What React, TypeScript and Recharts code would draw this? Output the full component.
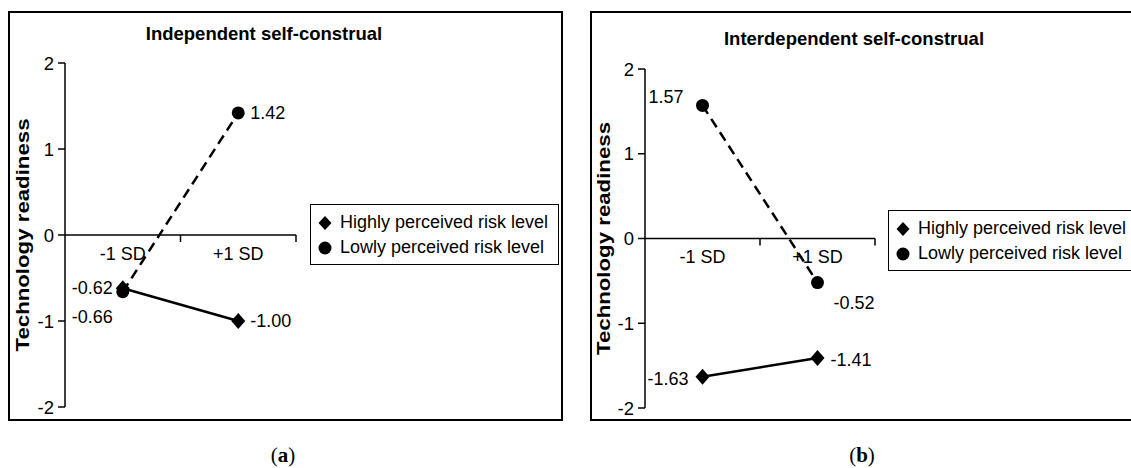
import React from 'react';
import { LineChart, Line, XAxis, YAxis, ReferenceLine, LabelList, Legend } from 'recharts';

const CATEGORIES = ['-1 SD', '+1 SD'];
const Y_TICKS = [-2, -1, 0, 1, 2];
const SERIES_NAMES = ['Highly perceived risk level', 'Lowly perceived risk level'];

// (a) independent self-construal
const INDEP_HIGH = [-0.62, -1.0];
const INDEP_LOW = [-0.66, 1.42];
// (b) interdependent self-construal
const INTER_HIGH = [-1.63, -1.41];
const INTER_LOW = [1.57, -0.52];

const FONT = '"Liberation Sans", Arial, sans-serif';
const SERIF = '"Liberation Serif", "Times New Roman", serif';
const CHART_H = 468;
const XAXIS_H = 30;

type Offset = { dx: number; dy: number; anchor: 'start' | 'end' };

const Diamond = (props: any) => {
  const { cx, cy } = props;
  if (cx == null || cy == null) return null;
  return <path d={`M${cx},${cy - 8} L${cx + 7},${cy} L${cx},${cy + 8} L${cx - 7},${cy} Z`} fill="#000" />;
};

const Dot = (props: any) => {
  const { cx, cy } = props;
  if (cx == null || cy == null) return null;
  return <circle cx={cx} cy={cy} r={6.5} fill="#000" />;
};

const makeLabel = (offsets: Offset[]) => (props: any) => {
  const vb = props.viewBox || {};
  const x = vb.x ?? props.x;
  const y = vb.y ?? props.y;
  const o = offsets[props.index] || { dx: 12, dy: 0, anchor: 'start' };
  return (
    <text x={x + o.dx} y={y + o.dy} textAnchor={o.anchor} dominantBaseline="central"
      fontFamily={FONT} fontSize={18} fill="#000">
      {Number(props.value).toFixed(2)}
    </text>
  );
};

const LegendBox = ({ width }: { width: number }) => (
  <div style={{ width, border: '1.5px solid #000', background: '#fff', padding: '5px 0 4px 0', fontFamily: FONT, fontSize: 18, color: '#000', boxSizing: 'border-box' }}>
    {SERIES_NAMES.map((name, i) => (
      <div key={name} style={{ height: 25, display: 'flex', alignItems: 'center', whiteSpace: 'nowrap' }}>
        <svg width={29} height={20} style={{ flex: 'none' }}>
          {i === 0
            ? <path d="M14,3 L20.5,10 L14,17 L7.5,10 Z" fill="#000" />
            : <circle cx={14} cy={10} r={6.5} fill="#000" />}
        </svg>
        <span>{name}</span>
      </div>
    ))}
  </div>
);

type PanelProps = {
  left: number; width: number; axisWidth: number; plotWidth: number;
  plotTop: number; plotBottom: number; yLabelX: number;
  high: number[]; low: number[];
  highOffsets: Offset[]; lowOffsets: Offset[];
  legendLeft: number; legendTop: number; legendWidth: number;
};

const Panel = (p: PanelProps) => {
  const data = CATEGORIES.map((name, i) => ({ name, high: p.high[i], low: p.low[i] }));
  const plotH = p.plotBottom - p.plotTop;
  const zeroShift = plotH * (0 - Y_TICKS[0]) / (Y_TICKS[Y_TICKS.length - 1] - Y_TICKS[0]);
  const margin = { top: p.plotTop, right: p.width - p.axisWidth - p.plotWidth, bottom: CHART_H - p.plotBottom - XAXIS_H, left: 0 };
  const halfBand = p.plotWidth / CATEGORIES.length / 2;

  const CategoryTick = (t: any) => {
    const zeroY = t.y - zeroShift;
    const off = t.payload?.offset ?? halfBand;
    return (
      <g>
        <line x1={t.x + off} x2={t.x + off} y1={zeroY} y2={zeroY + 7} stroke="#000" strokeWidth={1.5} />
        <text x={t.x} y={zeroY + 12} dy="0.72em" textAnchor="middle" fontFamily={FONT} fontSize={18} fill="#000">
          {t.payload.value}
        </text>
      </g>
    );
  };

  const YLabel = (l: any) => {
    const vb = l.viewBox;
    const cx = p.yLabelX;
    const cy = vb.y + vb.height / 2;
    return (
      <text x={cx} y={cy} transform={`rotate(-90 ${cx} ${cy})`} textAnchor="middle" dominantBaseline="central"
        fontFamily={FONT} fontWeight="bold" fontSize={19} textLength={233} lengthAdjust="spacingAndGlyphs" fill="#000">
        Technology readiness
      </text>
    );
  };

  return (
    <div style={{ position: 'absolute', left: p.left, top: 0 }}>
      <LineChart width={p.width} height={CHART_H} data={data} margin={margin}>
        <XAxis dataKey="name" scale="band" height={XAXIS_H} axisLine={false} tickLine={false}
          tickSize={0} tickMargin={0} tick={CategoryTick} interval={0} />
        <YAxis type="number" domain={[Y_TICKS[0], Y_TICKS[Y_TICKS.length - 1]]} ticks={Y_TICKS}
          width={p.axisWidth} axisLine={{ stroke: '#000', strokeWidth: 1.5 }}
          tickLine={{ stroke: '#000', strokeWidth: 1.5 }} tickSize={7} tickMargin={4}
          tick={{ fontFamily: FONT, fontSize: 18.5, fill: '#000' }} label={{ content: YLabel }} />
        <ReferenceLine y={0} stroke="#000" strokeWidth={1.5} />
        <Legend layout="horizontal" verticalAlign="middle" align="center"
          wrapperStyle={{ left: p.legendLeft, top: p.legendTop, width: 'auto' }}
          content={() => <LegendBox width={p.legendWidth} />} />
        <Line dataKey="high" name={SERIES_NAMES[0]} stroke="#000" strokeWidth={2.5} dot={<Diamond />}
          activeDot={false} isAnimationActive={false}>
          <LabelList dataKey="high" content={makeLabel(p.highOffsets)} />
        </Line>
        <Line dataKey="low" name={SERIES_NAMES[1]} stroke="#000" strokeWidth={2.5} strokeDasharray="10 6"
          dot={<Dot />} activeDot={false} isAnimationActive={false}>
          <LabelList dataKey="low" content={makeLabel(p.lowOffsets)} />
        </Line>
      </LineChart>
    </div>
  );
};

const frame: React.CSSProperties = { position: 'absolute', top: 11, height: 410, border: '2px solid #000', boxSizing: 'border-box' };
const titleStyle: React.CSSProperties = { position: 'absolute', fontFamily: FONT, fontWeight: 'bold', fontSize: 18.5, transform: 'translate(-50%, -50%)', whiteSpace: 'nowrap' };
const captionStyle: React.CSSProperties = { position: 'absolute', top: 455, fontFamily: SERIF, fontSize: 21, transform: 'translate(-50%, -50%)' };

export default function App() {
  return (
    <div style={{ position: 'absolute', left: 0, top: 0, width: 1131, height: 468, overflow: 'hidden', background: '#fff' }}>
      <div style={{ ...frame, left: 8, width: 555 }} />
      <div style={{ ...frame, left: 590, width: 560 }} />
      <div style={{ ...titleStyle, left: 264, top: 34 }}>Independent self-construal</div>
      <div style={{ ...titleStyle, left: 854, top: 39 }}>Interdependent self-construal</div>
      <Panel left={0} width={575} axisWidth={65} plotWidth={231} plotTop={63} plotBottom={407} yLabelX={22}
        high={INDEP_HIGH} low={INDEP_LOW}
        highOffsets={[{ dx: -10, dy: 0, anchor: 'end' }, { dx: 12, dy: 0, anchor: 'start' }]}
        lowOffsets={[{ dx: -10, dy: 25, anchor: 'end' }, { dx: 12, dy: 0, anchor: 'start' }]}
        legendLeft={310} legendTop={204} legendWidth={249} />
      <Panel left={570} width={561} axisWidth={75} plotWidth={230} plotTop={69} plotBottom={408} yLabelX={33}
        high={INTER_HIGH} low={INTER_LOW}
        highOffsets={[{ dx: -14, dy: 2, anchor: 'end' }, { dx: 13, dy: 2, anchor: 'start' }]}
        lowOffsets={[{ dx: -19, dy: -8, anchor: 'end' }, { dx: 16, dy: 20, anchor: 'start' }]}
        legendLeft={318} legendTop={210} legendWidth={260} />
      <div style={{ ...captionStyle, left: 283 }}>(<b>a</b>)</div>
      <div style={{ ...captionStyle, left: 862 }}>(<b>b</b>)</div>
    </div>
  );
}
